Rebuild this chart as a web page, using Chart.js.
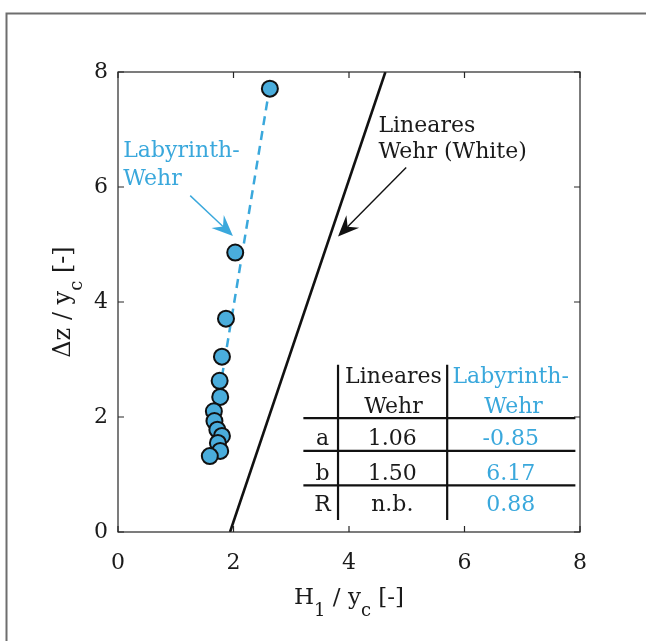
<!DOCTYPE html>
<html><head><meta charset="utf-8">
<script src="https://cdn.jsdelivr.net/npm/chart.js@4.4.1/dist/chart.umd.min.js"></script>
<style>html,body{margin:0;padding:0;background:#fff;} canvas{display:block;}</style>
</head><body>
<canvas id="c" width="646" height="641"></canvas>
<script>
// ---- data ----
const H1_yc = [2.63, 2.03, 1.87, 1.80, 1.76, 1.77, 1.66, 1.67, 1.72, 1.80, 1.73, 1.77, 1.59];
const dz_yc = [7.71, 4.86, 3.71, 3.05, 2.63, 2.35, 2.10, 1.93, 1.78, 1.67, 1.55, 1.41, 1.32];
const labyrinthFitX = [1.80, 2.62];
const labyrinthFitY = [2.70, 7.70];
const linearX = [1.94, 4.63];
const linearY = [0, 8];
const xTicks = [0, 2, 4, 6, 8];
const yTicks = [0, 2, 4, 6, 8];
const tableHeadLinear = ['Lineares', 'Wehr'];
const tableHeadLabyrinth = ['Labyrinth-', 'Wehr'];
const tableRows = ['a', 'b', 'R'];
const linearParams = ['1.06', '1.50', 'n.b.'];
const labyrinthParams = ['-0.85', '6.17', '0.88'];

const BLUE = '#3aa8dc';
const POINT_BLUE = '#4aaddc';
const TXT = '#1a1a1a';
const FONT = 'DejaVu Serif';

const pts = (xs, ys) => xs.map((x, i) => ({x, y: ys[i]}));

function rich(ctx, parts, x, y, align, mainSize, subSize, subDy) {
  let w = 0;
  parts.forEach(p => { ctx.font = (p[1] ? subSize : mainSize) + 'px "' + FONT + '"'; w += ctx.measureText(p[0]).width; });
  let cx = align === 'center' ? x - w / 2 : x;
  ctx.textAlign = 'left';
  parts.forEach(p => {
    ctx.font = (p[1] ? subSize : mainSize) + 'px "' + FONT + '"';
    ctx.fillText(p[0], cx, y + (p[1] ? subDy : 0));
    cx += ctx.measureText(p[0]).width;
  });
}

function arrow(ctx, x0, y0, x1, y1, color, lw, hl, hw) {
  const a = Math.atan2(y1 - y0, x1 - x0);
  const c = Math.cos(a), s = Math.sin(a);
  const bx = x1 - hl * c, by = y1 - hl * s;
  const nx = x1 - hl * 0.65 * c, ny = y1 - hl * 0.65 * s;
  ctx.strokeStyle = color; ctx.fillStyle = color; ctx.lineWidth = lw;
  ctx.beginPath(); ctx.moveTo(x0, y0); ctx.lineTo(nx, ny); ctx.stroke();
  ctx.beginPath();
  ctx.moveTo(x1, y1);
  ctx.lineTo(bx - hw * s, by + hw * c);
  ctx.lineTo(nx, ny);
  ctx.lineTo(bx + hw * s, by - hw * c);
  ctx.closePath(); ctx.fill();
}

const deco = {
  id: 'deco',
  afterDraw(chart) {
    const ctx = chart.ctx, xs = chart.scales.x, ys = chart.scales.y, ca = chart.chartArea;
    const X = v => xs.getPixelForValue(v), Y = v => ys.getPixelForValue(v);
    ctx.save();
    // outer frame
    ctx.strokeStyle = '#6e6e6e'; ctx.lineWidth = 2;
    ctx.beginPath(); ctx.moveTo(6.5, 641); ctx.lineTo(6.5, 13.5); ctx.lineTo(646, 13.5); ctx.stroke();
    // plot box + inward ticks
    ctx.strokeStyle = '#262626'; ctx.lineWidth = 1.2;
    ctx.strokeRect(ca.left, ca.top, ca.right - ca.left, ca.bottom - ca.top);
    ctx.beginPath();
    xTicks.forEach(v => { const p = X(v); ctx.moveTo(p, ca.bottom); ctx.lineTo(p, ca.bottom - 6); ctx.moveTo(p, ca.top); ctx.lineTo(p, ca.top + 6); });
    yTicks.forEach(v => { const p = Y(v); ctx.moveTo(ca.left, p); ctx.lineTo(ca.left + 6, p); ctx.moveTo(ca.right, p); ctx.lineTo(ca.right - 6, p); });
    ctx.stroke();

    // axis titles
    ctx.fillStyle = TXT; ctx.textBaseline = 'alphabetic';
    rich(ctx, [['H', 0], ['1', 1], [' / y', 0], ['c', 1], [' [-]', 0]], (ca.left + ca.right) / 2, 604, 'center', 23, 18, 12);
    ctx.save();
    ctx.translate(70, (ca.top + ca.bottom) / 2); ctx.rotate(-Math.PI / 2);
    rich(ctx, [['\u0394z / y', 0], ['c', 1], [' [-]', 0]], 0, 0, 'center', 24, 18, 12);
    ctx.restore();

    // annotations
    ctx.font = '22px "' + FONT + '"'; ctx.textAlign = 'left';
    ctx.fillStyle = BLUE;
    ctx.fillText('Labyrinth-', X(0.09), Y(6.53));
    ctx.fillText('Wehr', X(0.09), Y(6.04));
    ctx.fillStyle = TXT;
    ctx.fillText('Lineares', X(4.51), Y(6.96));
    ctx.fillText('Wehr (White)', X(4.51), Y(6.51));
    arrow(ctx, X(1.25), Y(5.85), X(1.99), Y(5.15), BLUE, 1.4, 21, 9);
    arrow(ctx, X(4.99), Y(6.34), X(3.81), Y(5.14), '#111', 1.4, 21, 9);

    // table
    ctx.strokeStyle = '#111'; ctx.lineWidth = 2.2;
    ctx.beginPath();
    [3.81, 5.70].forEach(v => { ctx.moveTo(X(v), Y(2.91)); ctx.lineTo(X(v), Y(0.21)); });
    [1.98, 1.41, 0.81].forEach(v => { ctx.moveTo(X(3.21), Y(v)); ctx.lineTo(X(7.92), Y(v)); });
    ctx.stroke();
    ctx.font = '22px "' + FONT + '"'; ctx.textAlign = 'center';
    ctx.fillStyle = TXT;
    ctx.fillText(tableHeadLinear[0], X(4.77), Y(2.60));
    ctx.fillText(tableHeadLinear[1], X(4.77), Y(2.07));
    ctx.fillStyle = BLUE;
    ctx.fillText(tableHeadLabyrinth[0], X(6.80), Y(2.60));
    ctx.fillText(tableHeadLabyrinth[1], X(6.85), Y(2.07));
    const rowY = [1.52, 0.91, 0.36];
    tableRows.forEach((r, i) => {
      ctx.fillStyle = TXT;
      ctx.fillText(r, X(3.54), Y(rowY[i]));
      ctx.fillText(linearParams[i], X(4.75), Y(rowY[i]));
      ctx.fillStyle = BLUE;
      ctx.fillText(labyrinthParams[i], X(6.80), Y(rowY[i]));
    });
    ctx.restore();
  }
};

new Chart(document.getElementById('c'), {
  type: 'scatter',
  data: {
    datasets: [
      { type: 'line', data: pts(linearX, linearY), borderColor: '#111', borderWidth: 2.6, pointRadius: 0, fill: false, order: 3 },
      { type: 'line', data: pts(labyrinthFitX, labyrinthFitY), borderColor: BLUE, borderWidth: 2.5, borderDash: [9, 6], pointRadius: 0, fill: false, order: 2 },
      { type: 'scatter', data: pts(H1_yc, dz_yc), backgroundColor: POINT_BLUE, borderColor: '#111', borderWidth: 2, pointRadius: 8, order: 1 }
    ]
  },
  options: {
    responsive: false, animation: false, devicePixelRatio: 1,
    layout: { padding: { top: 72, right: 66, left: 0, bottom: 0 } },
    plugins: { legend: { display: false }, tooltip: { enabled: false } },
    scales: {
      x: {
        type: 'linear', min: 0, max: 8,
        afterBuildTicks: s => { s.ticks = xTicks.map(v => ({ value: v })); },
        afterFit: s => { s.height = 109; },
        grid: { display: false, drawTicks: false }, border: { display: false },
        ticks: { padding: 18, color: TXT, font: { family: FONT, size: 22 } }
      },
      y: {
        type: 'linear', min: 0, max: 8,
        afterBuildTicks: s => { s.ticks = yTicks.map(v => ({ value: v })); },
        afterFit: s => { s.width = 118; },
        grid: { display: false, drawTicks: false }, border: { display: false },
        ticks: { padding: 10, color: TXT, font: { family: FONT, size: 22 } }
      }
    }
  },
  plugins: [deco]
});
</script>
</body></html>
